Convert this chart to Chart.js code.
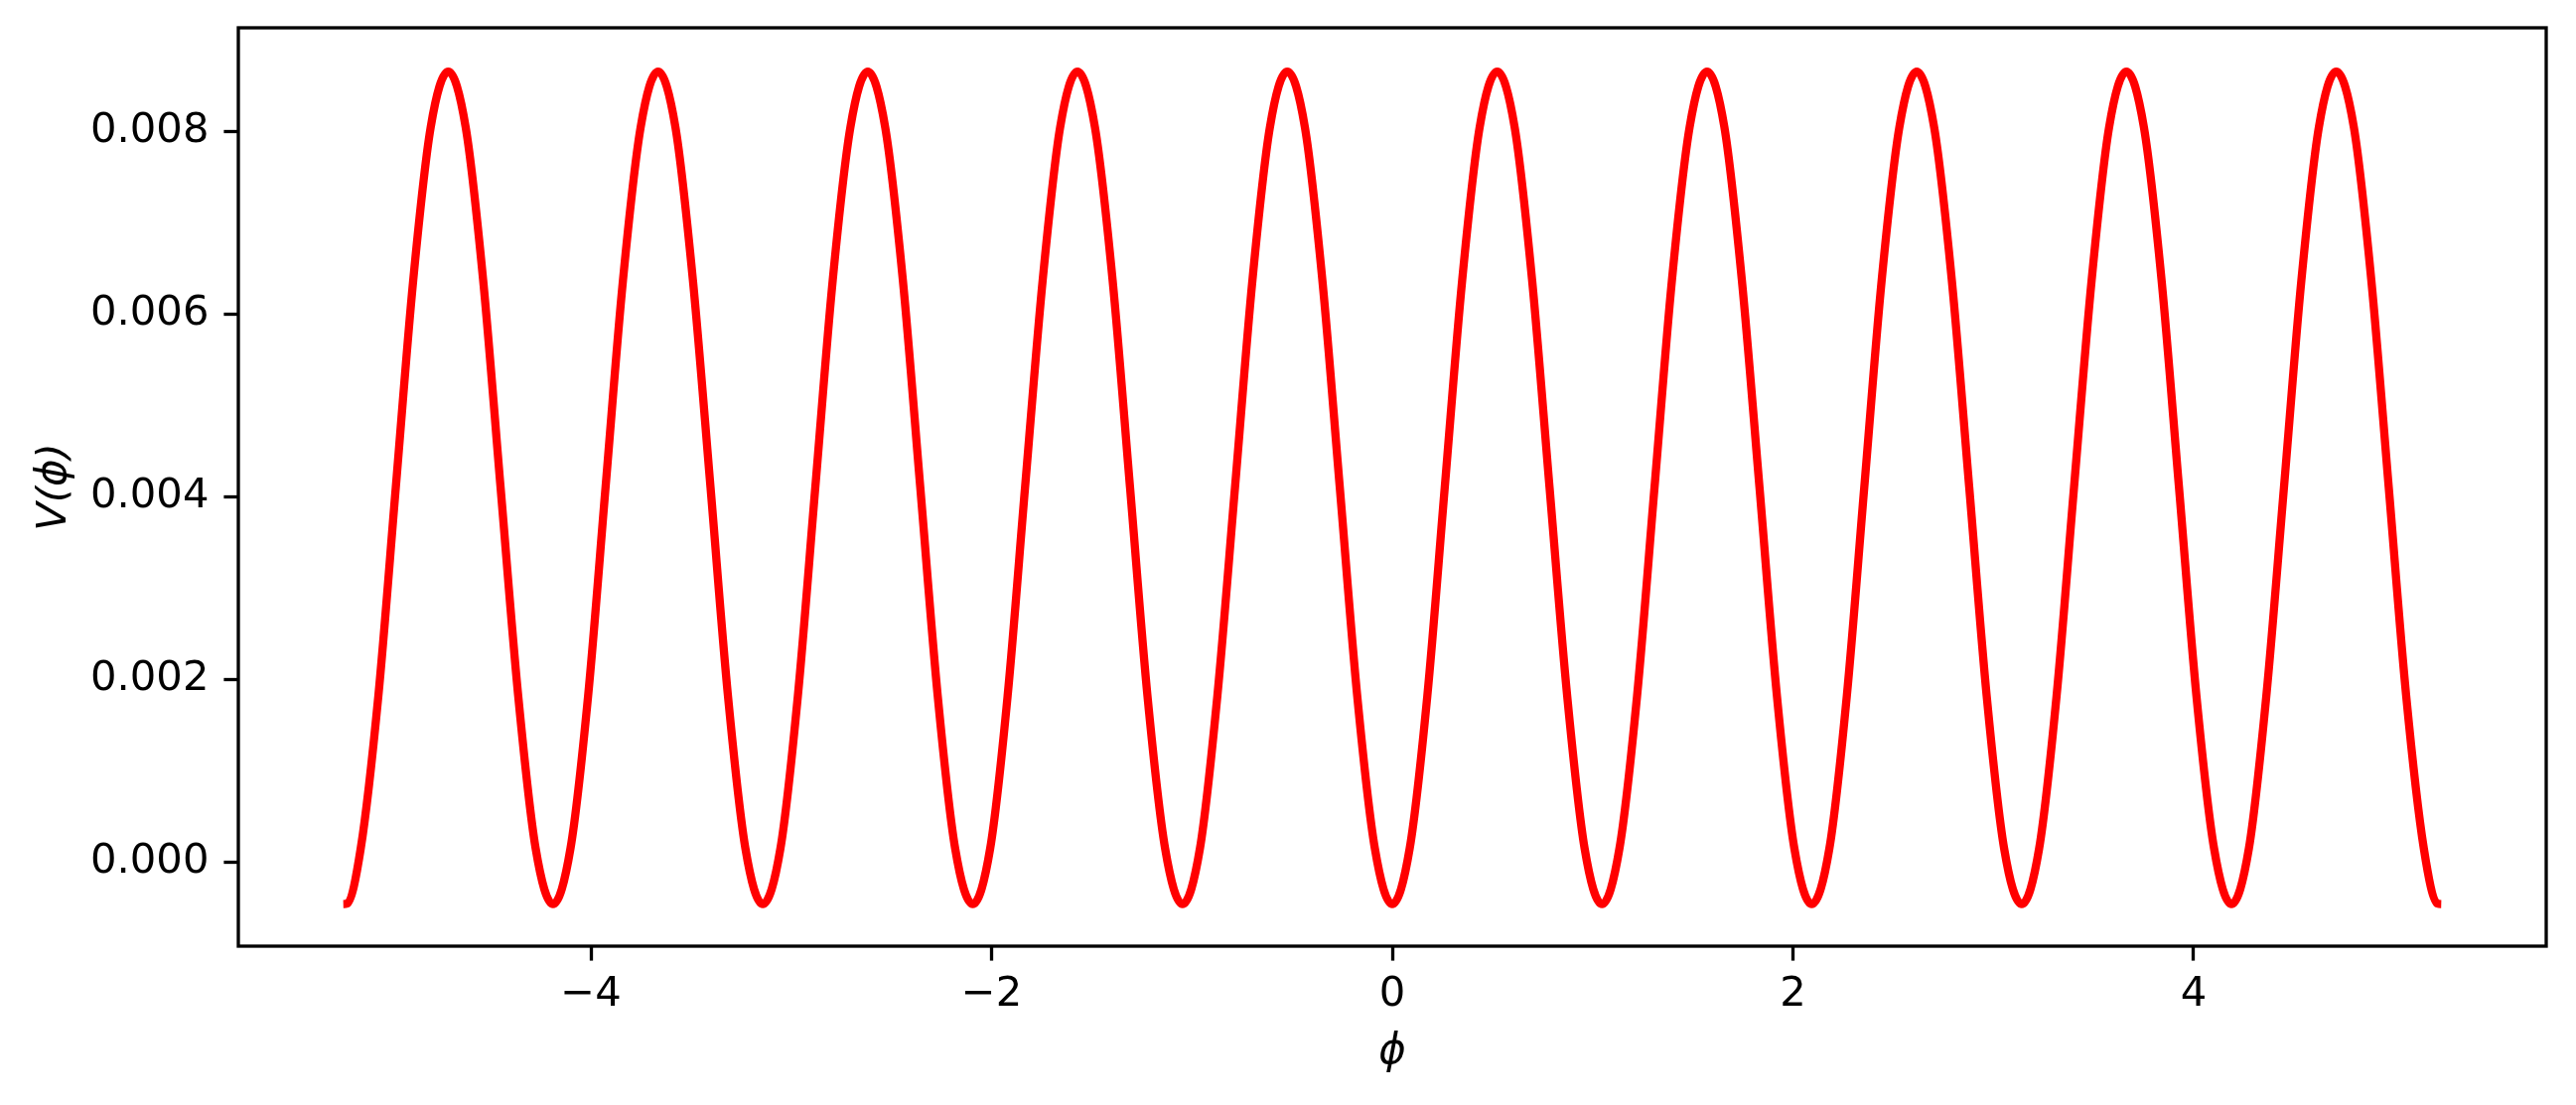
<!DOCTYPE html>
<html>
<head>
<meta charset="utf-8">
<script src="https://cdn.jsdelivr.net/npm/chart.js@4.4.1/dist/chart.umd.min.js"></script>
<style>
    html, body { margin: 0; padding: 0; background: #fff; }
    #wrap { width: 2594px; height: 1113px; }
</style>
</head>
<body>
<div id="wrap"><canvas id="potential" width="2594" height="1113"></canvas></div>
<script>
// phi values (x)
const phi = [
    -5.236, -5.218, -5.149, -5.061, -4.974, -4.887, -4.800, -4.712, -4.625, -4.538, -4.451, -4.363, -4.276,
    -4.189, -4.102, -4.014, -3.927, -3.840, -3.752, -3.665, -3.578, -3.491, -3.403, -3.316, -3.229,
    -3.142, -3.054, -2.967, -2.880, -2.793, -2.705, -2.618, -2.531, -2.443, -2.356, -2.269, -2.182,
    -2.094, -2.007, -1.920, -1.833, -1.745, -1.658, -1.571, -1.484, -1.396, -1.309, -1.222, -1.134,
    -1.047, -0.960, -0.873, -0.785, -0.698, -0.611, -0.524, -0.436, -0.349, -0.262, -0.175, -0.087,
    0, 0.087, 0.175, 0.262, 0.349, 0.436, 0.524, 0.611, 0.698, 0.785, 0.873, 0.960,
    1.047, 1.134, 1.222, 1.309, 1.396, 1.484, 1.571, 1.658, 1.745, 1.833, 1.920, 2.007,
    2.094, 2.182, 2.269, 2.356, 2.443, 2.531, 2.618, 2.705, 2.793, 2.880, 2.967, 3.054,
    3.142, 3.229, 3.316, 3.403, 3.491, 3.578, 3.665, 3.752, 3.840, 3.927, 4.014, 4.102,
    4.189, 4.276, 4.363, 4.451, 4.538, 4.625, 4.712, 4.800, 4.887, 4.974, 5.061, 5.149,
    5.218, 5.236
];

// V(phi) values
const V = [
    -0.00046, -0.000455, 0.00015, 0.00182, 0.0041, 0.00637, 0.00804, 0.00865, 0.00804, 0.00637, 0.0041, 0.00182, 0.00015,
    -0.00046, 0.00015, 0.00182, 0.0041, 0.00637, 0.00804, 0.00865, 0.00804, 0.00637, 0.0041, 0.00182, 0.00015,
    -0.00046, 0.00015, 0.00182, 0.0041, 0.00637, 0.00804, 0.00865, 0.00804, 0.00637, 0.0041, 0.00182, 0.00015,
    -0.00046, 0.00015, 0.00182, 0.0041, 0.00637, 0.00804, 0.00865, 0.00804, 0.00637, 0.0041, 0.00182, 0.00015,
    -0.00046, 0.00015, 0.00182, 0.0041, 0.00637, 0.00804, 0.00865, 0.00804, 0.00637, 0.0041, 0.00182, 0.00015,
    -0.00046, 0.00015, 0.00182, 0.0041, 0.00637, 0.00804, 0.00865, 0.00804, 0.00637, 0.0041, 0.00182, 0.00015,
    -0.00046, 0.00015, 0.00182, 0.0041, 0.00637, 0.00804, 0.00865, 0.00804, 0.00637, 0.0041, 0.00182, 0.00015,
    -0.00046, 0.00015, 0.00182, 0.0041, 0.00637, 0.00804, 0.00865, 0.00804, 0.00637, 0.0041, 0.00182, 0.00015,
    -0.00046, 0.00015, 0.00182, 0.0041, 0.00637, 0.00804, 0.00865, 0.00804, 0.00637, 0.0041, 0.00182, 0.00015,
    -0.00046, 0.00015, 0.00182, 0.0041, 0.00637, 0.00804, 0.00865, 0.00804, 0.00637, 0.0041, 0.00182, 0.00015,
    -0.000455, -0.00046
];

const xTicks = [-4, -2, 0, 2, 4];
const yTicks = [0, 0.002, 0.004, 0.006, 0.008];
const xTitle = 'ϕ';
const yTitle = 'V(ϕ)';

const FONT = '"DejaVu Sans", sans-serif';

// frame round the plot area (matplotlib style box)
const frame = {
    id: 'frame',
    afterDraw(chart) {
        let a = chart.chartArea;
        let ctx = chart.ctx;
        ctx.save();
        ctx.strokeStyle = '#000';
        ctx.lineWidth = 3.3;
        ctx.strokeRect(a.left, a.top, a.right - a.left, a.bottom - a.top);
        ctx.restore();
    }
};

let points = [];
for (let i = 0; i < phi.length; i++) {
    points.push({ x: phi[i], y: V[i] });
}

let ctx = document.getElementById('potential').getContext('2d');
let potChart = new Chart(ctx, {
    type: 'line',
    data: {
        datasets: [{
            data: points,
            borderColor: '#ff0000',
            borderWidth: 8.3,
            pointRadius: 0,
            cubicInterpolationMode: 'monotone',
            fill: false
        }]
    },
    options: {
        responsive: false,
        devicePixelRatio: 1,
        animation: false,
        layout: { padding: { left: 30, top: 28, right: 30, bottom: 28 } },
        plugins: {
            legend: { display: false },
            tooltip: { enabled: false }
        },
        scales: {
            x: {
                type: 'linear',
                min: -5.76,
                max: 5.76,
                afterBuildTicks: (s) => { s.ticks = xTicks.map(v => ({ value: v })); },
                afterFit: (s) => {
                    s.height = 132;
                    s.paddingLeft = 0;
                    s.paddingRight = 0;
                },
                border: { display: false },
                grid: {
                    drawOnChartArea: false,
                    drawTicks: true,
                    tickLength: 14.6,
                    tickWidth: 3.3,
                    tickColor: '#000'
                },
                ticks: {
                    color: '#000',
                    padding: 10,
                    maxRotation: 0,
                    font: { family: FONT, size: 41.7 },
                    callback: (v) => v < 0 ? '\u2212' + Math.abs(v) : String(v)
                },
                title: {
                    display: true,
                    text: xTitle,
                    color: '#000',
                    padding: { top: 0, bottom: 0 },
                    font: { family: FONT, size: 41.7, style: 'italic' }
                }
            },
            y: {
                min: -0.00092,
                max: 0.00913,
                afterBuildTicks: (s) => { s.ticks = yTicks.map(v => ({ value: v })); },
                afterFit: (s) => {
                    s.width = 210;
                    s.paddingTop = 0;
                    s.paddingBottom = 0;
                },
                border: { display: false },
                grid: {
                    drawOnChartArea: false,
                    drawTicks: true,
                    tickLength: 14.6,
                    tickWidth: 3.3,
                    tickColor: '#000'
                },
                ticks: {
                    color: '#000',
                    padding: 15,
                    font: { family: FONT, size: 41.7 },
                    callback: (v) => v.toFixed(3)
                },
                title: {
                    display: true,
                    text: yTitle,
                    color: '#000',
                    padding: { top: 0, bottom: 8 },
                    font: { family: FONT, size: 41.7, style: 'italic' }
                }
            }
        }
    },
    plugins: [frame]
});
</script>
</body>
</html>
